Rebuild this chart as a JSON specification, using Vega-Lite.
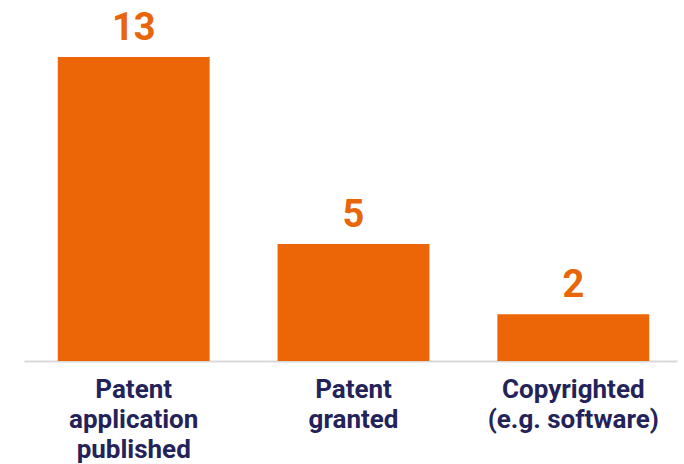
{
  "$schema": "https://vega.github.io/schema/vega-lite/v6.json",
  "autosize": "none",
  "width": 653,
  "height": 361,
  "padding": {"left": 24, "top": 0, "right": 7, "bottom": 103},
  "background": "white",
  "config": {"view": {"stroke": null}, "font": "Roboto"},
  "data": {"values": [
    {"category": "Patent|application|published", "count": 13},
    {"category": "Patent|granted", "count": 5},
    {"category": "Copyrighted|(e.g. software)", "count": 2}
  ]},
  "encoding": {
    "x": {
      "field": "category", "type": "nominal", "sort": null,
      "scale": {"paddingInner": 0.309, "paddingOuter": 0.14},
      "axis": {
        "title": null, "labelAngle": 0, "ticks": false,
        "domainColor": "#d9d9d9", "domainWidth": 2,
        "labelExpr": "split(datum.value, '|')",
        "labelFont": "Roboto", "labelFontSize": 26, "labelFontWeight": "bold",
        "labelColor": "#23235a", "labelLineHeight": 30, "labelOffset": 3,
        "labelBaseline": "alphabetic", "labelPadding": 36, "labelLimit": 300
      }
    },
    "y": {
      "field": "count", "type": "quantitative",
      "scale": {"domain": [0, 15.44], "nice": false},
      "axis": null
    }
  },
  "layer": [
    {"mark": {"type": "bar", "color": "#ec6608", "xOffset": 3}},
    {"mark": {"type": "text", "color": "#e8650a", "font": "Roboto", "fontSize": 38, "fontWeight": "bold", "baseline": "alphabetic", "dy": -17, "xOffset": 3},
     "encoding": {"text": {"field": "count", "type": "quantitative"}}}
  ]
}
